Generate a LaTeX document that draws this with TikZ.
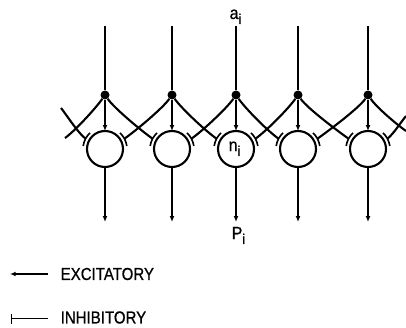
\documentclass[tikz,border=0pt]{standalone}
\usepackage{fontspec}
\setmainfont{Liberation Sans}[FakeBold=0.8]
\usetikzlibrary{arrows.meta,calc}
\newcommand\withsub[2]{\scalebox{1}[1.1]{#1\raisebox{-4.5pt}{\fontsize{13}{13}\selectfont #2}}}
\newcommand\tallcaps[1]{\scalebox{0.97}[1.12]{#1}}
\begin{document}
\begin{tikzpicture}[x=1pt,y=1pt,
  wire/.style={line width=2.1pt},
  exc/.style={wire,-{Latex[length=6pt,width=5pt]}},
  neuron/.style={circle,draw,line width=2.1pt,minimum size=36pt,inner sep=0pt,outer sep=0pt},
  junction/.style={circle,fill,inner sep=0pt,minimum size=9pt},
  lbl/.style={font=\fontsize{16}{16}\selectfont,inner sep=0pt},
  legendtext/.style={font=\fontsize{15.5}{15.5}\selectfont,anchor=west,inner sep=0pt},
  inhbar/.style={line width=1.6pt},
  legline/.style={line width=1.3pt}]
\useasboundingbox (0,0) rectangle (406,327);

\foreach \i/\x in {1/105,2/172,3/236,4/298,5/368} {
  \node[neuron] (n\i) at (\x,178) {};
  \node[junction] (d\i) at (\x,232) {};
  \coordinate (t\i) at (\x,301);
  \coordinate (o\i) at (\x,105);
  \coordinate (w\i) at ($(n\i.center)+(152:22)$);
  \coordinate (e\i) at ($(n\i.center)+(28:22)$);
  \draw[wire] (t\i) -- (d\i);
  \draw[exc] (d\i) -- (n\i);
  \draw[exc] (n\i) -- (o\i);
  \draw[inhbar] ($(n\i.center)+(133:22)$) arc[start angle=133,end angle=172,radius=22];
  \draw[inhbar] ($(n\i.center)+(47:22)$) arc[start angle=47,end angle=8,radius=22];
}

\foreach \a/\b in {1/2,2/3,3/4,4/5} {
  \draw[wire] (d\a) .. controls +(-55:16) and +(145:14) .. (w\b);
  \draw[wire] (d\b) .. controls +(-125:16) and +(35:14) .. (e\a);
}

% truncated edge connections
\coordinate (la) at (61,219);
\coordinate (lb) at (65,189);
\coordinate (ra) at (406,211);
\coordinate (rb) at (406,196);
\draw[wire] (la) .. controls +(-52:12) and +(142:10) .. (w1);
\draw[wire] (d1) .. controls +(-125:16) and +(35:12) .. (lb);
\draw[wire] (d5) .. controls +(-55:16) and +(145:10) .. (rb);
\draw[wire] (ra) .. controls +(-130:8) and +(38:8) .. (e5);

% labels
\node[lbl,anchor=base west] (ai) at (229.5,308) {\withsub{a}{i}};
\node[lbl,anchor=base west] (ni) at (228.5,176) {\withsub{n}{i}};
\node[lbl,anchor=base west] (pi) at (231.5,88) {\withsub{P}{i}};

% legend
\coordinate (ex0) at (10,53);
\coordinate (ex1) at (48,53);
\draw[legline,-{Latex[length=5.5pt,width=4.5pt]}] (ex1) -- (ex0);
\node[legendtext] (exl) at (60.5,53) {\tallcaps{EXCITATORY}};
\coordinate (in0) at (10.5,8.5);
\coordinate (in1) at (48,8.5);
\draw[legline,{Bar[width=10pt]}-] (in0) -- (in1);
\node[legendtext] (inl) at (60.5,9.5) {\tallcaps{INHIBITORY}};
\end{tikzpicture}
\end{document}
